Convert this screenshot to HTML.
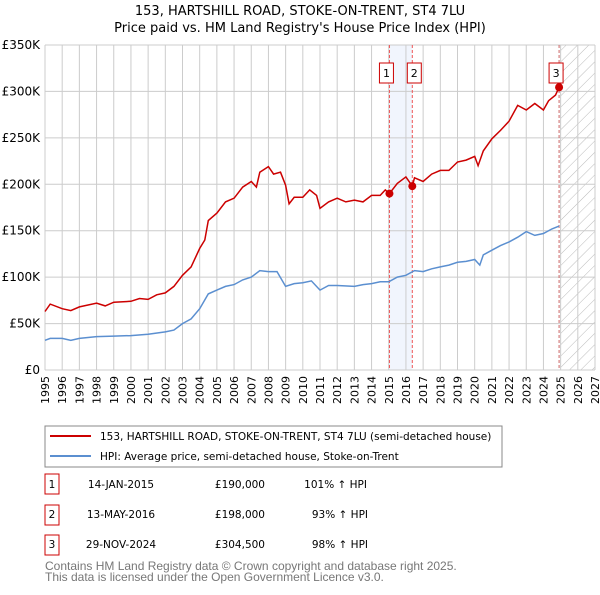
<!DOCTYPE html>
<html><head><meta charset="utf-8"><style>
body{margin:0;background:#fff;font-family:"Liberation Sans","DejaVu Sans",sans-serif;}
svg text{font-family:"DejaVu Sans","Liberation Sans",sans-serif;}
svg text.lib{font-family:"Liberation Sans","DejaVu Sans",sans-serif;}
</style></head><body>
<svg id="c" width="600" height="590" xmlns="http://www.w3.org/2000/svg">
<defs><pattern id="hatch" width="8" height="8" patternUnits="userSpaceOnUse" patternTransform="rotate(45)"><line x1="0" y1="0" x2="0" y2="8" stroke="#bbb" stroke-width="1"/></pattern></defs>
<text x="300" y="15" text-anchor="middle" font-size="13">153, HARTSHILL ROAD, STOKE-ON-TRENT, ST4 7LU</text>
<text x="300" y="32" text-anchor="middle" font-size="13">Price paid vs. HM Land Registry's House Price Index (HPI)</text>
<g id="plot"></g>
<rect x="45" y="426" width="457" height="41" fill="#fff" stroke="#888"/>
<line x1="50" y1="436" x2="91" y2="436" stroke="#cc0000" stroke-width="2"/>
<text x="100" y="440" font-size="10.5">153, HARTSHILL ROAD, STOKE-ON-TRENT, ST4 7LU (semi-detached house)</text>
<line x1="50" y1="456" x2="91" y2="456" stroke="#5b8fd0" stroke-width="2"/>
<text x="100" y="460" font-size="10.5">HPI: Average price, semi-detached house, Stoke-on-Trent</text>
<g font-size="10.5">
<rect x="45" y="474" width="14" height="20" fill="#fff" stroke="#cc0000"/><text x="52" y="488" text-anchor="middle">1</text>
<text x="121" y="488" text-anchor="middle">14-JAN-2015</text>
<text x="265" y="488" text-anchor="end">£190,000</text>
<text x="367" y="488" text-anchor="end">101% ↑ HPI</text>
<rect x="45" y="505" width="14" height="20" fill="#fff" stroke="#cc0000"/><text x="52" y="518" text-anchor="middle">2</text>
<text x="121" y="518" text-anchor="middle">13-MAY-2016</text>
<text x="265" y="518" text-anchor="end">£198,000</text>
<text x="368" y="518" text-anchor="end">93% ↑ HPI</text>
<rect x="45" y="535" width="14" height="20" fill="#fff" stroke="#cc0000"/><text x="52" y="548" text-anchor="middle">3</text>
<text x="121" y="548" text-anchor="middle">29-NOV-2024</text>
<text x="265" y="548" text-anchor="end">£304,500</text>
<text x="368" y="548" text-anchor="end">98% ↑ HPI</text>
</g>
<text class="lib" x="45" y="570" font-size="12" fill="#777">Contains HM Land Registry data © Crown copyright and database right 2025.</text>
<text class="lib" x="45" y="581" font-size="12" fill="#777">This data is licensed under the Open Government Licence v3.0.</text>
</svg>
<script>
const hpiYears=[1995,1995.3,1996,1996.5,1997,1998,1999,2000,2001,2002,2002.5,2003,2003.5,2004,2004.5,2005,2005.5,2006,2006.5,2007,2007.5,2008,2008.5,2009,2009.5,2010,2010.5,2011,2011.5,2012,2013,2013.5,2014,2014.5,2015,2015.5,2016,2016.5,2017,2017.5,2018,2018.5,2019,2019.5,2020,2020.3,2020.5,2021,2021.5,2022,2022.5,2023,2023.5,2024,2024.5,2024.91];
const hpiValues=[32,34,34,32,34,36,36.5,37,38.5,41,43,50,55,66,82,86,90,92,97,100,107,106,106,90,93,94,96,86,91,91,90,92,93,95,95,100,102,107,106,109,111,113,116,117,119,113,124,129,134,138,143,149,145,147,152,155];
const ppYears=[1995,1995.3,1996,1996.5,1997,1998,1998.5,1999,2000,2000.5,2001,2001.5,2002,2002.5,2003,2003.5,2004,2004.3,2004.5,2005,2005.5,2006,2006.5,2007,2007.3,2007.5,2008,2008.3,2008.7,2009,2009.2,2009.5,2010,2010.4,2010.8,2011,2011.5,2012,2012.5,2013,2013.5,2014,2014.5,2014.8,2015.04,2015.5,2016,2016.37,2016.5,2017,2017.5,2018,2018.5,2019,2019.5,2020,2020.2,2020.5,2021,2021.5,2022,2022.5,2023,2023.5,2024,2024.3,2024.7,2024.91];
const ppValues=[63,71,66,64,68,72,69,73,74,77,76,81,83,90,102,111,131,140,161,169,181,185,197,203,197,213,219,211,213,199,179,186,186,194,188,174,181,185,181,183,181,188,188,194,190,201,208,198,207,203,211,215,215,224,226,230,220,236,249,258,268,285,280,287,280,290,296,304.5];
const saleYears=[2015.04,2016.37,2024.91];
const saleValues=[190,198,304.5];
const saleLabels=["1","2","3"];
const yTicks=[0,50,100,150,200,250,300,350];
const yTickLabels=["£0","£50K","£100K","£150K","£200K","£250K","£300K","£350K"];
const xTicks=[1995,1996,1997,1998,1999,2000,2001,2002,2003,2004,2005,2006,2007,2008,2009,2010,2011,2012,2013,2014,2015,2016,2017,2018,2019,2020,2021,2022,2023,2024,2025,2026,2027];

const L=45,R=595,T=45,B=370;
const xs=y=>L+(y-1995)/(2027-1995)*(R-L);
const ys=v=>B-v/350*(B-T);
const NS="http://www.w3.org/2000/svg";
const g=document.getElementById('plot');
function mk(tag,attrs){const e=document.createElementNS(NS,tag);for(const k in attrs)e.setAttribute(k,attrs[k]);g.appendChild(e);return e;}
let band=mk('rect',{x:xs(saleYears[0]),y:T,width:xs(saleYears[1])-xs(saleYears[0]),height:B-T,fill:'#f1f5fd'});


let hat=mk('rect',{x:xs(2025),y:T,width:R-xs(2025),height:B-T,fill:'url(#hatch)'});


xTicks.forEach(t=>{
  const l=mk('line',{x1:xs(t),x2:xs(t),y1:T,y2:B,stroke:'#ccc','stroke-width':1});
  
  
  const tx=mk('text',{x:0,y:0,'font-size':11,'text-anchor':'end',transform:`translate(${xs(t)+4},${B+6}) rotate(-90)`});
  tx.textContent=t;
  
  
});
yTicks.forEach((t,i)=>{
  const l=mk('line',{x1:L,x2:R,y1:ys(t),y2:ys(t),stroke:'#ccc','stroke-width':1});
  
  
  const tx=mk('text',{x:L-5,y:ys(t)+4,'font-size':12,'text-anchor':'end'});
  tx.textContent=yTickLabels[i];
  
  
});
saleYears.forEach((s,i)=>{
  const l=mk('line',{x1:xs(s),x2:xs(s),y1:T,y2:B,stroke:i==2?'#c66':'#e55','stroke-width':1,'stroke-dasharray':'3,2'});
  
  
});
function path(xa,va,col,name){
  const d=xa.map((x,i)=>(i?'L':'M')+xs(x).toFixed(1)+','+ys(va[i]).toFixed(1)).join('');
  const p=mk('path',{d:d,fill:'none',stroke:col,'stroke-width':1.5});
  
  
}
path(hpiYears,hpiValues,'#5b8fd0','hpi-line');
path(ppYears,ppValues,'#cc0000','property-price-line');
saleYears.forEach((s,i)=>{
  const c=mk('circle',{cx:xs(s),cy:ys(saleValues[i]),r:4,fill:'#cc0000'});
  
  
  const bx=xs(s)+(i==2?-3:(i==0?-3:2));
  const r=mk('rect',{x:bx-7,y:63,width:14,height:20,fill:'#fff',stroke:'#cc0000'});
  
  
  const tx=mk('text',{x:bx,y:77,'font-size':11,'text-anchor':'middle'});
  tx.textContent=saleLabels[i];
  
  
});
</script>
</body></html>
